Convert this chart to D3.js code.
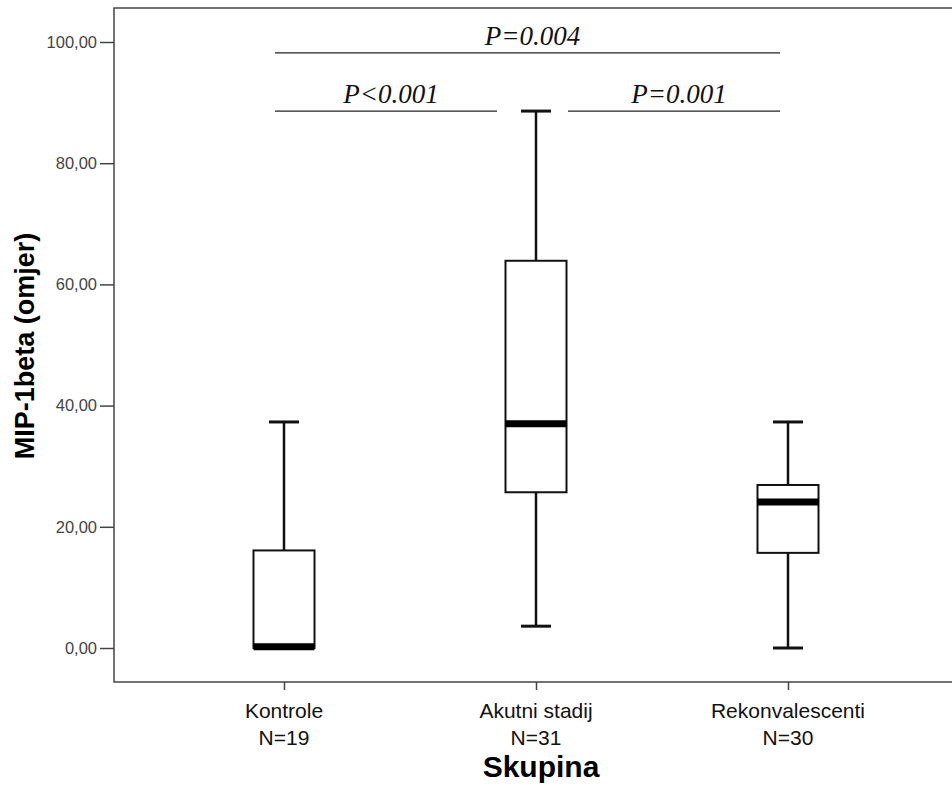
<!DOCTYPE html>
<html><head><meta charset="utf-8">
<script src="https://cdn.jsdelivr.net/npm/d3@7"></script>
<style>body{margin:0;background:#fff}</style>
</head><body>
<script>
const categories = ["Kontrole", "Akutni stadij", "Rekonvalescenti"];
const counts = ["N=19", "N=31", "N=30"];
const whiskerLow = [0, 3.6, 0];
const q1 = [0, 25.7, 15.7];
const median = [0.2, 37.0, 24.1];
const q3 = [16.1, 63.9, 26.9];
const whiskerHigh = [37.3, 88.6, 37.3];
const yTicks = [0, 20, 40, 60, 80, 100];
const comparisons = [
  {label: "P=0.004", level: 98.2, side: "full"},
  {label: "P<0.001", level: 88.6, side: "left"},
  {label: "P=0.001", level: 88.6, side: "right"}
];

(function () {
const W = 952, H = 787;
const svg = d3.select("body").append("svg").attr("width", W).attr("height", H);
const pLeft = 114, pTop = 8, pBottom = 682, pRight = 1100;
const sans = "Liberation Sans, Arial, sans-serif";

const y = d3.scaleLinear().domain([0, 100]).range([648, 42]);
const x = d3.scalePoint().domain(categories).range([284, 788]);

// frame
svg.append("path").attr("d", `M${pRight},${pTop}H${pLeft}V${pBottom}H${pRight}`)
  .attr("fill", "none").attr("stroke", "#444").attr("stroke-width", 1.5);

// y axis
const yAxis = d3.axisLeft(y).tickValues(yTicks).tickSize(14).tickPadding(3)
  .tickFormat(d => d3.format(".2f")(d).replace(".", ","));
const gy = svg.append("g").attr("transform", `translate(${pLeft},0)`).call(yAxis);
gy.select(".domain").remove();
gy.selectAll("line").attr("stroke", "#444").attr("stroke-width", 1.5);
gy.selectAll("text").attr("font-family", sans).attr("font-size", 16.5).attr("fill", "#444");

// x axis
const xAxis = d3.axisBottom(x).tickSize(8).tickFormat("");
const gx = svg.append("g").attr("transform", `translate(0,${pBottom})`).call(xAxis);
gx.select(".domain").remove();
gx.selectAll("line").attr("stroke", "#444").attr("stroke-width", 1.5);

categories.forEach((c, i) => {
  const t = svg.append("text").attr("x", x(c)).attr("text-anchor", "middle")
    .attr("font-family", sans).attr("font-size", 21).attr("fill", "#111");
  t.append("tspan").attr("x", x(c)).attr("y", 718).text(c);
  t.append("tspan").attr("x", x(c)).attr("y", 745).text(counts[i]);
});

// titles
svg.append("text").attr("x", 541).attr("y", 777).attr("text-anchor", "middle")
  .attr("font-family", sans).attr("font-weight", "bold")
  .attr("font-size", 30).attr("fill", "#000").text("Skupina");
svg.append("text").attr("transform", "translate(34,346) rotate(-90)").attr("text-anchor", "middle")
  .attr("font-family", sans).attr("font-weight", "bold")
  .attr("font-size", 27).attr("fill", "#000").text("MIP-1beta (omjer)");

// boxes
const bw = 61, cap = 30;
const g = svg.append("g");
categories.forEach((c, i) => {
  const cx = x(c);
  const st = "#111";
  if (whiskerHigh[i] > q3[i]) {
    g.append("line").attr("x1", cx).attr("x2", cx).attr("y1", y(q3[i])).attr("y2", y(whiskerHigh[i])).attr("stroke", st).attr("stroke-width", 2.5);
    g.append("line").attr("x1", cx - cap/2).attr("x2", cx + cap/2).attr("y1", y(whiskerHigh[i])).attr("y2", y(whiskerHigh[i])).attr("stroke", st).attr("stroke-width", 3);
  }
  if (whiskerLow[i] < q1[i]) {
    g.append("line").attr("x1", cx).attr("x2", cx).attr("y1", y(q1[i])).attr("y2", y(whiskerLow[i])).attr("stroke", st).attr("stroke-width", 2.5);
    g.append("line").attr("x1", cx - cap/2).attr("x2", cx + cap/2).attr("y1", y(whiskerLow[i])).attr("y2", y(whiskerLow[i])).attr("stroke", st).attr("stroke-width", 3);
  }
  g.append("rect").attr("x", cx - bw/2).attr("y", y(q3[i])).attr("width", bw)
    .attr("height", y(q1[i]) - y(q3[i])).attr("fill", "#fff").attr("stroke", st).attr("stroke-width", 2);
  g.append("line").attr("x1", cx - bw/2).attr("x2", cx + bw/2).attr("y1", y(median[i])).attr("y2", y(median[i]))
    .attr("stroke", "#000").attr("stroke-width", 7);
});

// comparisons
const lineLeft = 275, lineRight = 780;
comparisons.forEach(cp => {
  let x1 = lineLeft, x2 = lineRight;
  if (cp.side === "left") { x2 = x(categories[1]) - 39; }
  if (cp.side === "right") { x1 = x(categories[1]) + 32; }
  svg.append("line").attr("x1", x1).attr("x2", x2).attr("y1", y(cp.level)).attr("y2", y(cp.level))
    .attr("stroke", "#222").attr("stroke-width", 1.3);
  svg.append("text").attr("x", (x1 + x2) / 2 + 5).attr("y", y(cp.level) - 8).attr("text-anchor", "middle")
    .attr("font-family", "Liberation Serif, Times New Roman, serif").attr("font-style", "italic")
    .attr("font-size", 27).attr("fill", "#111").text(cp.label);
});
})();
</script>
</body></html>
